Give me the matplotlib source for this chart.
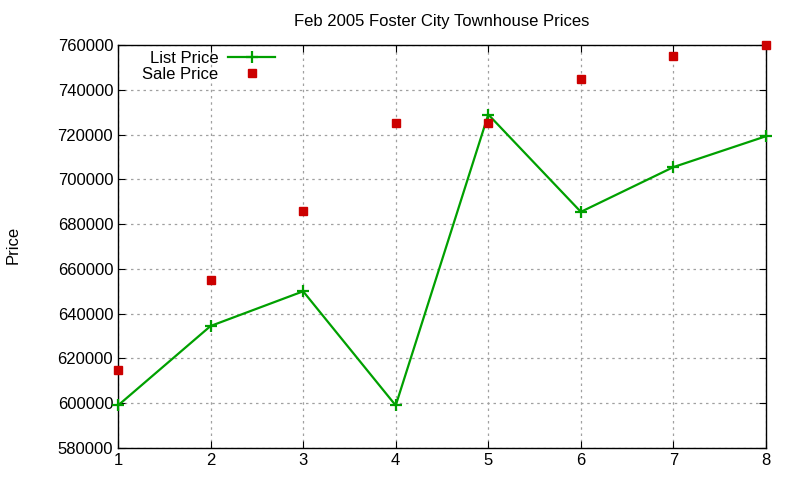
import matplotlib
matplotlib.use('Agg')
import matplotlib.pyplot as plt

plt.rcParams['font.family'] = ['Liberation Sans', 'DejaVu Sans']

# data
week = [1, 2, 3, 4, 5, 6, 7, 8]
list_price = [599000, 634500, 650000, 599000, 729000, 685500, 705500, 719300]
sale_price = [615000, 655000, 686000, 725000, 725000, 745000, 755000, 760000]

fig = plt.figure(figsize=(8, 4.8), dpi=100)
ax = fig.add_axes([0.1475, 0.0667, 0.81, 0.8393])

ax.plot(week, list_price, color='#00a000', lw=1.6, marker='+', ms=8, mew=1.6,
        label='List Price', zorder=3, clip_on=False)
ax.plot(week, sale_price, ls='none', marker='s', ms=6, color='#cc0000',
        label='Sale Price', zorder=4, clip_on=False)

ax.set_xlim(1, 8)
ax.set_ylim(580000, 760000)
ax.set_yticks(range(580000, 760001, 20000))
ax.set_xticks(week)
ax.grid(True, color='#a0a0a0', ls=(0, (2, 3)), lw=0.9)
ax.tick_params(direction='in', top=True, right=True, labelsize=12, length=5)
for s in ax.spines.values():
    s.set_linewidth(1.0)

ax.set_title('Feb 2005 Foster City Townhouse Prices', fontsize=12, pad=14)
fig.text(0.016, 0.49, 'Price', rotation=90, ha='center', va='center', fontsize=12)

ax.legend(loc='upper left', frameon=False, markerfirst=False, fontsize=12,
          bbox_to_anchor=(0.017, 1.018), handlelength=2.8, labelspacing=0.05,
          borderpad=0.3, handletextpad=0.6)

fig.savefig('out.png', dpi=100, facecolor='white')
